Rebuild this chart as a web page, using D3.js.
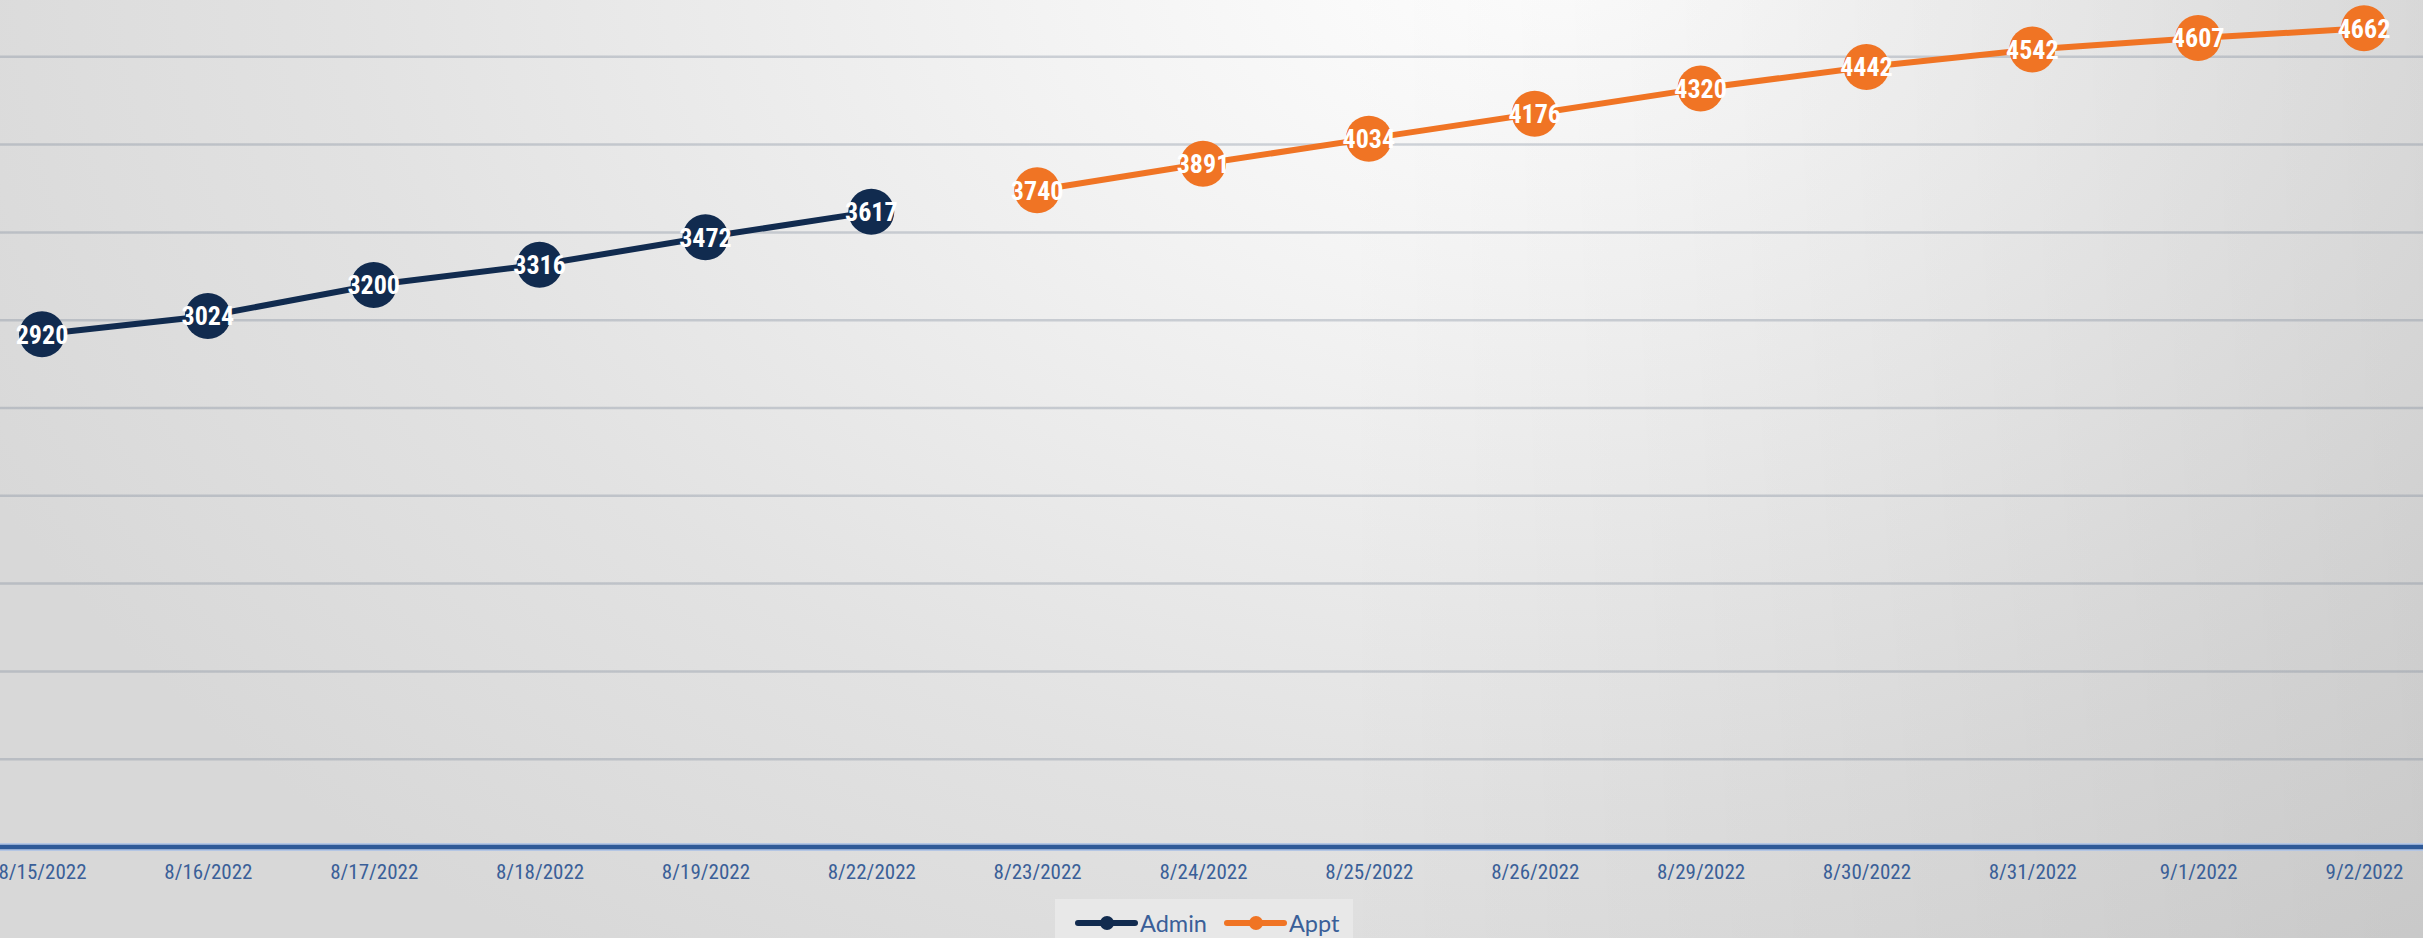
<!DOCTYPE html>
<html>
<head>
<meta charset="utf-8">
<script src="https://cdn.jsdelivr.net/npm/d3@7"></script>
<style>
  html, body { margin: 0; padding: 0; overflow: hidden; }
  #chart { width: 2423px; height: 938px; }
</style>
</head>
<body>
<div id="chart"></div>
<script>
// chart data
var dates = ["8/15/2022", "8/16/2022", "8/17/2022", "8/18/2022", "8/19/2022", "8/22/2022",
  "8/23/2022", "8/24/2022", "8/25/2022", "8/26/2022", "8/29/2022", "8/30/2022",
  "8/31/2022", "9/1/2022", "9/2/2022"];
var adminValues = [2920, 3024, 3200, 3316, 3472, 3617, null, null, null, null, null, null, null, null, null];
var apptValues = [null, null, null, null, null, null, 3740, 3891, 4034, 4176, 4320, 4442, 4542, 4607, 4662];
var seriesNames = ["Admin", "Appt"];
var seriesColors = ["#112b4f", "#f07424"];

var max = { x: 2423, y: 938 };
var font = "'Liberation Sans Narrow', 'Roboto Condensed', 'Arial Narrow', sans-serif";

var svg = d3.select("#chart").append("svg")
  .attr("width", max.x)
  .attr("height", max.y);

var defs = svg.append("defs");

// background glow, white at top centre
var grad = defs.append("radialGradient")
  .attr("id", "bg")
  .attr("gradientUnits", "userSpaceOnUse")
  .attr("cx", 1560).attr("cy", -50)
  .attr("r", 1750)
  .attr("gradientTransform", "translate(1560,-50) scale(1,0.7) translate(-1560,50)");
grad.append("stop").attr("offset", "0").attr("stop-color", "#ffffff");
grad.append("stop").attr("offset", "0.3").attr("stop-color", "#f3f3f3");
grad.append("stop").attr("offset", "0.7").attr("stop-color", "#e2e2e2");
grad.append("stop").attr("offset", "1").attr("stop-color", "#d8d8d8");

var shade = defs.append("linearGradient")
  .attr("id", "shade")
  .attr("x1", "0").attr("x2", "1").attr("y1", "0").attr("y2", "0");
shade.append("stop").attr("offset", "0.55").attr("stop-color", "#000").attr("stop-opacity", 0);
shade.append("stop").attr("offset", "1").attr("stop-color", "#000").attr("stop-opacity", 0.08);

svg.append("rect")
  .attr("width", max.x)
  .attr("height", max.y)
  .attr("fill", "url(#bg)");
svg.append("rect")
  .attr("width", max.x)
  .attr("height", max.y)
  .attr("fill", "url(#shade)");

var xScale = d3.scalePoint()
  .domain(dates)
  .range([42, 2364]);

var yScale = d3.scaleLinear()
  .domain([0, 5000])
  .range([847, -31]);

// gridlines
svg.append("g").selectAll("line")
  .data(yScale.ticks(10).filter(function(d) { return d > 0; }))
  .enter().append("line")
  .attr("x1", 0).attr("x2", max.x)
  .attr("y1", function(d) { return yScale(d); })
  .attr("y2", function(d) { return yScale(d); })
  .attr("stroke", "#7a8799")
  .attr("stroke-opacity", 0.33)
  .attr("stroke-width", 2.5);

// x axis
var axis = svg.append("g")
  .attr("transform", "translate(0," + yScale(0) + ")")
  .call(d3.axisBottom(xScale).tickSize(0).tickPadding(17));
axis.select(".domain").remove();
axis.append("line")
  .attr("x1", 0).attr("x2", max.x)
  .attr("stroke", "#b4c6e4").attr("stroke-width", 8);
axis.append("line")
  .attr("x1", 0).attr("x2", max.x)
  .attr("stroke", "#2f5a98").attr("stroke-width", 4.5);
axis.selectAll("text")
  .attr("font-family", font)
  .attr("font-size", 21)
  .attr("fill", "#3a5f98");

var series = [adminValues, apptValues];

var line = d3.line()
  .defined(function(d) { return d != null; })
  .x(function(d, i) { return xScale(dates[i]); })
  .y(function(d) { return yScale(d); });

series.forEach(function(values, s) {
  var g = svg.append("g");
  g.append("path")
    .datum(values)
    .attr("d", line)
    .attr("fill", "none")
    .attr("stroke", seriesColors[s])
    .attr("stroke-width", 6);

  var pts = values.map(function(v, i) { return { v: v, i: i }; })
    .filter(function(d) { return d.v != null; });

  g.selectAll("circle").data(pts).enter().append("circle")
    .attr("cx", function(d) { return xScale(dates[d.i]); })
    .attr("cy", function(d) { return yScale(d.v); })
    .attr("r", 23)
    .attr("fill", seriesColors[s]);

  g.selectAll("text").data(pts).enter().append("text")
    .attr("x", function(d) { return xScale(dates[d.i]); })
    .attr("y", function(d) { return yScale(d.v); })
    .attr("dy", "0.36em")
    .attr("text-anchor", "middle")
    .attr("font-family", font)
    .attr("font-weight", "bold")
    .attr("font-size", 26)
    .attr("fill", "#ffffff")
    .text(function(d) { return d.v; });
});

// legend
var legend = svg.append("g");
legend.append("rect")
  .attr("x", 1055).attr("y", 899)
  .attr("width", 298).attr("height", 42)
  .attr("fill", "#e8e8e8");

var legendX = [1078, 1227];
seriesNames.forEach(function(name, s) {
  var lx = legendX[s];
  legend.append("line")
    .attr("x1", lx).attr("x2", lx + 57)
    .attr("y1", 923).attr("y2", 923)
    .attr("stroke", seriesColors[s])
    .attr("stroke-linecap", "round")
    .attr("stroke-width", 6);
  legend.append("circle")
    .attr("cx", lx + 29).attr("cy", 923)
    .attr("r", 7)
    .attr("fill", seriesColors[s]);
  legend.append("text")
    .attr("x", lx + 62).attr("y", 932)
    .attr("font-family", "Lato, 'Open Sans', sans-serif")
    .attr("font-size", 23.5)
    .attr("fill", "#3a5f98")
    .text(name);
});
</script>
</body>
</html>
